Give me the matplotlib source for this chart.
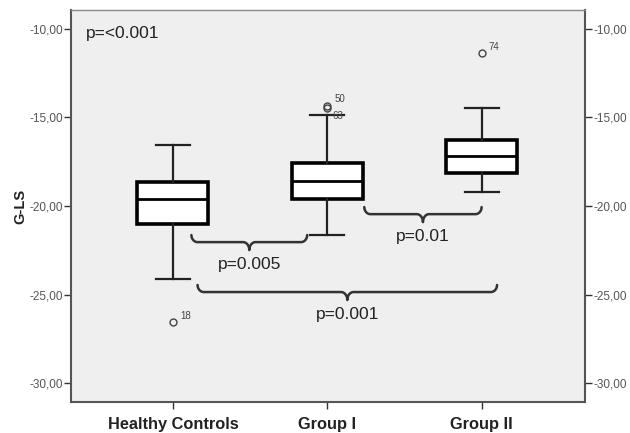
import numpy as np
import matplotlib
matplotlib.use('Agg')
import matplotlib.pyplot as plt
from matplotlib.ticker import FuncFormatter

plt.rcParams['font.family'] = ['Liberation Sans', 'DejaVu Sans']

# ---- data ----
groups = ['Healthy Controls', 'Group I', 'Group II']
whislo = [-24.1, -21.65, -19.2]
q1 = [-21.0, -19.6, -18.15]
med = [-19.6, -18.6, -17.15]
q3 = [-18.65, -17.55, -16.25]
whishi = [-16.55, -14.85, -14.45]
fliers = [[-26.55], [-14.45, -14.35], [-11.35]]
flier_ids = [['18'], ['50', '63'], ['74']]

# comparisons: (group a, group b, label)
pairs = [(0, 1, 'p=0.005'), (1, 2, 'p=0.01'), (0, 2, 'p=0.001')]
overall_p = 'p=<0.001'

# ---- figure ----
fig = plt.figure(figsize=(6.3, 4.33), dpi=100)
ax = fig.add_axes([0.1127, 0.0716, 0.8159, 0.9053])
ax.set_facecolor('#efefef')

pos = np.arange(1, len(groups) + 1)
stats = []
for i, g in enumerate(groups):
    stats.append(dict(label=g, whislo=whislo[i], q1=q1[i], med=med[i],
                      q3=q3[i], whishi=whishi[i], fliers=fliers[i]))

ax.bxp(stats, positions=pos, widths=0.46, patch_artist=True,
       boxprops=dict(facecolor='white', edgecolor='black', linewidth=2.6),
       medianprops=dict(color='black', linewidth=2.0),
       whiskerprops=dict(color='#222222', linewidth=1.6),
       capprops=dict(color='#222222', linewidth=1.6),
       capwidths=0.22,
       flierprops=dict(marker='o', markerfacecolor='none', markeredgecolor='#444444',
                       markersize=5, markeredgewidth=1.0))

# outlier case numbers
offs = {'18': (5, 4), '50': (5, 6), '63': (4, -7), '74': (5, 4)}
for i in range(len(groups)):
    for y, lab in zip(fliers[i], flier_ids[i]):
        ax.annotate(lab, (pos[i], y), xytext=offs[lab], textcoords='offset points',
                    fontsize=7, color='#444444', va='center', ha='left')


# curly braces for the pairwise tests
def brace(ax, x0, x1, ytop, label, h=0.4, h2=0.45, r=0.04):
    # underbrace: ends at ytop, flat part at ytop-h, tip at ytop-h-h2
    xm = (x0 + x1) / 2
    yl = ytop - h
    t = np.linspace(0, np.pi / 2, 15)
    xs = list(x0 + r - r * np.cos(t))
    ys = list(ytop - h * np.sin(t))
    xs += list(xm - r + r * np.sin(t))
    ys += list(yl - h2 * (1 - np.cos(t)))
    xs += list(xm + r * (1 - np.cos(t)))
    ys += list(yl - h2 + h2 * np.sin(t))
    xs += list(x1 - r + r * np.sin(t))
    ys += list(yl + h * (1 - np.cos(t)))
    ax.plot(xs, ys, color='#333333', linewidth=1.8, solid_capstyle='round',
            solid_joinstyle='round')
    ax.text(xm, yl - h2 - 0.4, label, ha='center', va='top', fontsize=12.5, color='#222222')


brace_x = [(1.12, 1.87), (2.24, 3.0), (1.16, 3.10)]
brace_y = [-21.64, -20.06, -24.46]
for (a, b, lab), (x0, x1), yt in zip(pairs, brace_x, brace_y):
    brace(ax, x0, x1, yt, lab)

ax.text(0.03, 0.94, overall_p, transform=ax.transAxes, fontsize=12.5,
        color='#222222', va='center', ha='left')

# axes styling
ax.set_xlim(0.34, 3.67)
ax.set_ylim(-31.07, -8.93)
ax.set_xticks(pos)
ax.set_xticklabels(groups, fontsize=11.8, fontweight='bold', color='#222222')
ax.set_yticks([-30, -25, -20, -15, -10])
ax.yaxis.set_major_formatter(FuncFormatter(lambda v, p: '{:.2f}'.format(v).replace('.', ',')))
ax.tick_params(axis='y', which='both', left=True, right=True, labelleft=True,
               labelright=True, labelsize=8.5, labelcolor='#555555', color='#333333',
               length=5, width=1.0, pad=1)
ax.tick_params(axis='x', length=5, width=1.0, color='#333333', pad=6)
ax.set_ylabel('G-LS', fontsize=10.5, fontweight='bold', color='#222222', labelpad=2)
ax.yaxis.set_label_coords(-0.085, 0.5)

for s in ['left', 'bottom', 'right']:
    ax.spines[s].set_color('#555555')
    ax.spines[s].set_linewidth(1.5)
ax.spines['top'].set_color('#888888')
ax.spines['top'].set_linewidth(1.0)

fig.savefig('out.png', dpi=100, facecolor='white')
